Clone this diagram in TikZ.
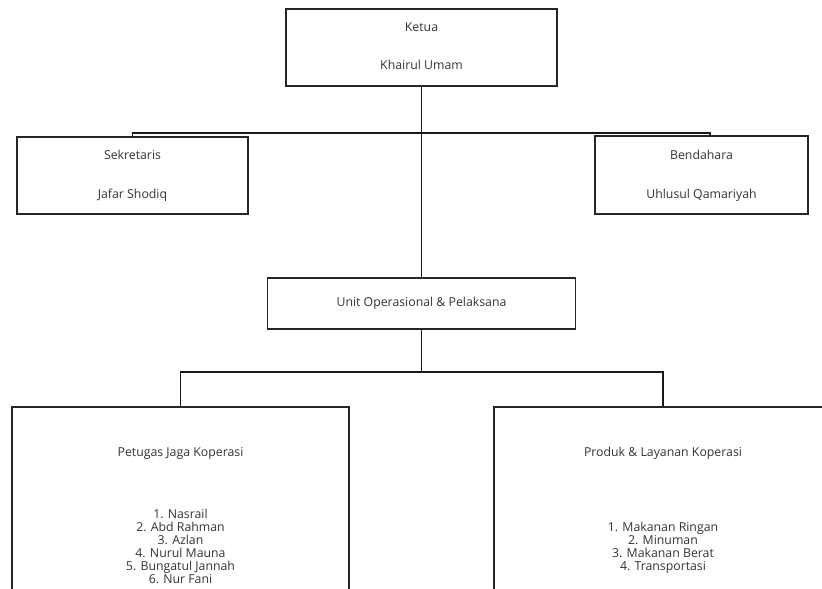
\documentclass[tikz,border=0pt]{standalone}
\usepackage{fontspec}
\setmainfont{Open Sans}
\begin{document}
\begin{tikzpicture}[x=1pt,y=-1pt,
  box/.style={draw=black!85,line width=1.4pt,inner sep=0pt},
  txt/.style={text=black!80,font=\fontsize{12.3}{13}\selectfont,align=center,inner sep=0pt},
  conn/.style={draw=black!90,line width=1.4pt}]
\useasboundingbox (0,0) rectangle (822,589);
\clip (0,0) rectangle (822,589);
% boxes
\node[box,minimum width=271pt,minimum height=77pt] (ketua) at (421.5,47.5) {};
\node[box,minimum width=231pt,minimum height=77pt] (sek) at (132.5,175.5) {};
\node[box,minimum width=213pt,minimum height=78pt] (bend) at (701.5,175) {};
\node[box,minimum width=308pt,minimum height=51pt] (unit) at (421.5,303.5) {};
\node[box,minimum width=337pt,minimum height=230pt] (pet) at (180.5,522) {};
\node[box,minimum width=338pt,minimum height=230pt] (prod) at (663,522) {};
% texts
\node[txt] (t1) at (421.5,27) {Ketua};
\node[txt] (t2) at (421.5,65) {Khairul Umam};
\node[txt] (t3) at (132.5,155) {Sekretaris};
\node[txt] (t4) at (132.5,195) {Jafar Shodiq};
\node[txt] (t5) at (701.5,155) {Bendahara};
\node[txt] (t6) at (701.5,195) {Uhlusul Qamariyah};
\node[txt] (t7) at (421.5,303) {Unit Operasional \& Pelaksana};
\node[txt] (t8) at (180.5,453) {Petugas Jaga Koperasi};
\node[txt,anchor=north] (t9) at (180.5,509) {1. Nasrail\\2. Abd Rahman\\3. Azlan\\4. Nurul Mauna\\5. Bungatul Jannah\\6. Nur Fani};
\node[txt] (t10) at (663,453) {Produk \& Layanan Koperasi};
\node[txt,anchor=north] (t11) at (663,522) {1. Makanan Ringan\\2. Minuman\\3. Makanan Berat\\4. Transportasi};
% connectors
\coordinate (bus) at (421.5,133);
\coordinate (bendtop) at (710,136.5);
\coordinate (bus2) at (421.5,372);
\draw[conn] (ketua.south) -- (unit.north);
\draw[conn] (sek.north) -- (sek.north |- bus) -- (bendtop |- bus) -- (bendtop);
\draw[conn] (unit.south) -- (bus2);
\draw[conn] (pet.north) |- (bus2) -| (prod.north);
\end{tikzpicture}
\end{document}
